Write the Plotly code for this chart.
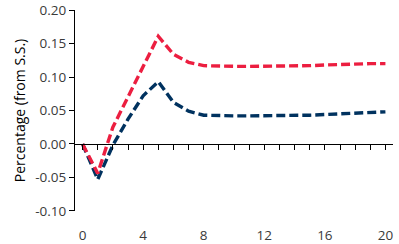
import plotly.graph_objects as go

periods = list(range(21))
red_vals = [0.0, -0.044, 0.025, 0.070, 0.114, 0.161, 0.134, 0.122, 0.117, 0.116, 0.116, 0.116, 0.116, 0.116, 0.117, 0.117, 0.118, 0.119, 0.119, 0.120, 0.120]
blue_vals = [0.0, -0.053, -0.002, 0.037, 0.072, 0.093, 0.062, 0.049, 0.043, 0.042, 0.042, 0.042, 0.042, 0.042, 0.043, 0.043, 0.044, 0.045, 0.046, 0.047, 0.048]
x_ticks = [0, 4, 8, 12, 16, 20]
y_ticks = [-0.10, -0.05, 0.00, 0.05, 0.10, 0.15, 0.20]

RED = "#EC1E40"
BLUE = "#00325F"
FONT = "Open Sans"
TXT = "#3a3a3a"

fig = go.Figure()
fig.add_trace(go.Scatter(x=periods, y=blue_vals, mode="lines",
                         line=dict(color=BLUE, width=3.4, dash="9px,4px"), hoverinfo="skip"))
fig.add_trace(go.Scatter(x=periods, y=red_vals, mode="lines",
                         line=dict(color=RED, width=3.4, dash="9px,4px"), hoverinfo="skip"))
# invisible trace to keep the zero-line axis drawn
fig.add_trace(go.Scatter(x=periods, y=red_vals, mode="lines", xaxis="x2",
                         line=dict(width=0), opacity=0, hoverinfo="skip"))

yr = [-0.1002, 0.2002]
zero_pos = (0 - yr[0]) / (yr[1] - yr[0])

fig.update_layout(
    width=399, height=244,
    margin=dict(l=75, r=6, t=10, b=33, autoexpand=False),
    paper_bgcolor="white", plot_bgcolor="white",
    showlegend=False,
    font=dict(family=FONT, size=13.5, color=TXT),
    xaxis=dict(range=[-0.5, 20.5], tickvals=x_ticks, ticktext=[str(v) for v in x_ticks],
               showgrid=False, zeroline=False, showline=False, automargin=False,
               ticks="outside", ticklen=12, tickcolor="rgba(0,0,0,0)",
               ticklabeloverflow="allow",
               tickfont=dict(family=FONT, size=13.5, color=TXT)),
    xaxis2=dict(range=[-0.5, 20.5], overlaying="x", anchor="free", position=zero_pos,
                side="bottom", dtick=1, tick0=0, showticklabels=False, automargin=False,
                showgrid=False, zeroline=False, showline=True, linecolor="black", linewidth=1.2,
                ticks="outside", ticklen=5, tickcolor="black", tickwidth=1),
    yaxis=dict(range=yr, tickvals=y_ticks, ticktext=[f"{v:.2f}" for v in y_ticks],
               showgrid=False, zeroline=False, showline=True, linecolor="black", linewidth=1.2,
               ticks="outside", ticklen=5, tickcolor="black", automargin=False,
               ticklabeloverflow="allow",
               tickfont=dict(family=FONT, size=13.5, color=TXT),
               title=dict(text="Percentage (from S.S.)", font=dict(family=FONT, size=14, color="black"),
                          standoff=6)),
)

fig.write_html("out.html")
